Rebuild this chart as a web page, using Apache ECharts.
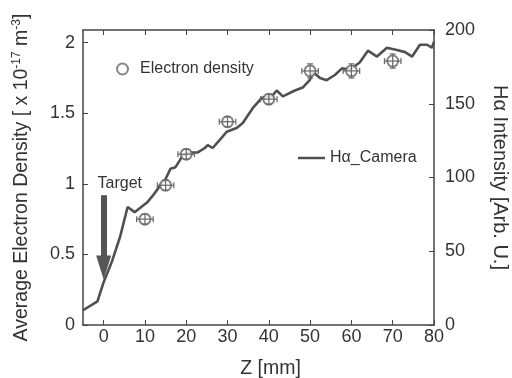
<!DOCTYPE html>
<html>
<head>
<meta charset="utf-8">
<script src="https://cdn.jsdelivr.net/npm/echarts@6/dist/echarts.min.js"></script>
<style>
html, body { margin: 0; background: #fff; }
#chart { width: 512px; height: 378px; }
</style>
</head>
<body>
<div id="chart"></div>
<script>
// electron density, left axis [x 10^17 m^-3]
const neZ = [10, 15, 20, 30, 40, 50, 60, 70];
const neVal = [0.75, 0.99, 1.21, 1.44, 1.60, 1.80, 1.80, 1.87];
const neZErr = [2, 2, 2, 2, 2, 2, 2, 2];
const neValErr = [0.02, 0.02, 0.02, 0.02, 0.03, 0.05, 0.05, 0.05];

// H-alpha camera intensity, right axis [Arb. U.]
const haZ = [-5, -1.5, 0, 2, 4, 5.8, 7.5, 10.5, 12, 13.8, 15, 16.2, 17.4, 19.2, 20.8, 22.8,
  24.5, 25.2, 26.4, 28.6, 29.8, 32.2, 33.7, 36.1, 38.3, 40.7, 41.9, 43.4, 46.3, 48.2, 49.9,
  50.7, 52.4, 54, 56, 57.7, 59.6, 62, 64, 66.2, 68.6, 71, 73, 74.7, 76.6, 78.3, 79.5, 80];
const haVal = [10, 16, 29, 43, 60, 80, 76.5, 83, 88, 95, 99, 106, 107, 115, 117, 117,
  120, 122, 120, 127, 131, 133.5, 137, 147, 154, 155, 159, 155, 159, 161, 166,
  171.5, 167.5, 166, 169.5, 174, 173, 178, 186, 182, 188, 186.5, 185, 182, 190, 190, 188, 192];

const zTicks = [0, 10, 20, 30, 40, 50, 60, 70, 80];
const neTicks = [0, 0.5, 1, 1.5, 2];

// target arrow (z, from, to on right axis) and its label
const arrowZ = 0, arrowFrom = 88, arrowTo = 39;
const targetLabel = [3.9, 96];

const font = 'Liberation Sans, Arial, sans-serif';
const ink = '#333';

const myChart = echarts.init(document.getElementById('chart'));

const axisLine = { onZero: false, lineStyle: { color: '#444', width: 1.5 } };

const option = {
    backgroundColor: '#fff',
    textStyle: { fontFamily: font },
    grid: { left: 83, right: 78, top: 30, bottom: 53, outerBoundsMode: 'none' },
    legend: [{
        data: ['Electron density'],
        left: 111, top: 56,
        itemWidth: 25, itemHeight: 11,
        textStyle: { fontSize: 16, color: ink, fontFamily: font }
    }, {
        data: [{ name: 'Hα_Camera', icon: 'rect' }],
        left: 293, top: 145,
        itemWidth: 27, itemHeight: 2.5,
        textStyle: { fontSize: 16, color: ink, fontFamily: font }
    }],
    xAxis: [{
        type: 'value', min: -5, max: 80,
        name: 'Z [mm]', nameLocation: 'middle', nameGap: 34,
        nameTextStyle: { fontSize: 19.5, color: ink, padding: [0, 0, 0, 24] },
        axisLine: axisLine,
        axisTick: { inside: true, length: 5, customValues: zTicks, lineStyle: { color: '#444' } },
        axisLabel: { customValues: zTicks, fontSize: 18, color: ink, margin: 3 },
        splitLine: { show: false }
    }, {
        type: 'value', min: -5, max: 80, position: 'top',
        axisLine: axisLine,
        axisTick: { inside: true, length: 5, customValues: zTicks, lineStyle: { color: '#444' } },
        axisLabel: { show: false },
        splitLine: { show: false }
    }],
    yAxis: [{
        type: 'value', min: 0, max: 2.09, position: 'left',
        name: '{n|Average Electron Density [ x 10}{s|-17}{n| m}{s|-3}{n|]}',
        nameLocation: 'middle', nameRotate: 90, nameGap: 50,
        nameTextStyle: {
            color: ink,
            rich: {
                n: { fontSize: 19.5, lineHeight: 22, color: ink, fontFamily: font },
                s: { fontSize: 12, lineHeight: 12, verticalAlign: 'top', color: ink, fontFamily: font }
            }
        },
        axisLine: axisLine,
        axisTick: { inside: true, length: 5, customValues: neTicks, lineStyle: { color: '#444' } },
        axisLabel: { customValues: neTicks, fontSize: 18, color: ink, margin: 8 },
        splitLine: { show: false }
    }, {
        type: 'value', min: 0, max: 200, interval: 50, position: 'right',
        name: 'Hα Intensity [Arb. U.]',
        nameLocation: 'middle', nameRotate: -90, nameGap: 56,
        nameTextStyle: { fontSize: 20, color: ink },
        axisLine: axisLine,
        axisTick: { inside: true, length: 5, lineStyle: { color: '#444' } },
        axisLabel: { fontSize: 18, color: ink, margin: 11 },
        splitLine: { show: false }
    }],
    series: [{
        name: 'Hα_Camera',
        type: 'line',
        yAxisIndex: 1,
        symbol: 'none',
        lineStyle: { color: '#505050', width: 2.6 },
        itemStyle: { color: '#505050' },
        data: haZ.map((z, i) => [z, haVal[i]]),
        markLine: {
            silent: true,
            symbol: ['none', 'triangle'],
            symbolSize: [15, 24],
            lineStyle: { color: '#555', width: 6, type: 'solid' },
            label: { show: false },
            data: [[{ coord: [arrowZ, arrowFrom] }, { coord: [arrowZ, arrowTo] }]]
        },
        markPoint: {
            silent: true,
            symbol: 'circle', symbolSize: 1,
            itemStyle: { color: 'rgba(0,0,0,0)' },
            label: { show: true, position: 'inside', formatter: 'Target', fontSize: 16, color: ink },
            data: [{ coord: targetLabel }]
        }
    }, {
        name: 'Electron density',
        type: 'scatter',
        symbol: 'emptyCircle',
        symbolSize: 11,
        itemStyle: { color: '#666', borderWidth: 1.3 },
        data: neZ.map((z, i) => [z, neVal[i]]),
        z: 3
    }, {
        name: 'errors',
        type: 'custom',
        z: 4,
        renderItem: function (params, api) {
            const x = api.value(0), y = api.value(1);
            const dx = api.value(2), dy = api.value(3);
            const c = api.coord([x, y]);
            const l = api.coord([x - dx, y])[0];
            const r = api.coord([x + dx, y])[0];
            const t = Math.min(api.coord([x, y + dy])[1], c[1] - 5);
            const b = Math.max(api.coord([x, y - dy])[1], c[1] + 5);
            const st = { stroke: '#666', lineWidth: 1.2, fill: null };
            const cap = 3;
            return {
                type: 'group',
                children: [
                    { type: 'line', shape: { x1: l, y1: c[1], x2: r, y2: c[1] }, style: st },
                    { type: 'line', shape: { x1: l, y1: c[1] - cap, x2: l, y2: c[1] + cap }, style: st },
                    { type: 'line', shape: { x1: r, y1: c[1] - cap, x2: r, y2: c[1] + cap }, style: st },
                    { type: 'line', shape: { x1: c[0], y1: t, x2: c[0], y2: b }, style: st },
                    { type: 'line', shape: { x1: c[0] - cap, y1: t, x2: c[0] + cap, y2: t }, style: st },
                    { type: 'line', shape: { x1: c[0] - cap, y1: b, x2: c[0] + cap, y2: b }, style: st }
                ]
            };
        },
        encode: { x: 0, y: 1 },
        data: neZ.map((z, i) => [z, neVal[i], neZErr[i], neValErr[i]])
    }]
};

myChart.setOption(option);
</script>
</body>
</html>
